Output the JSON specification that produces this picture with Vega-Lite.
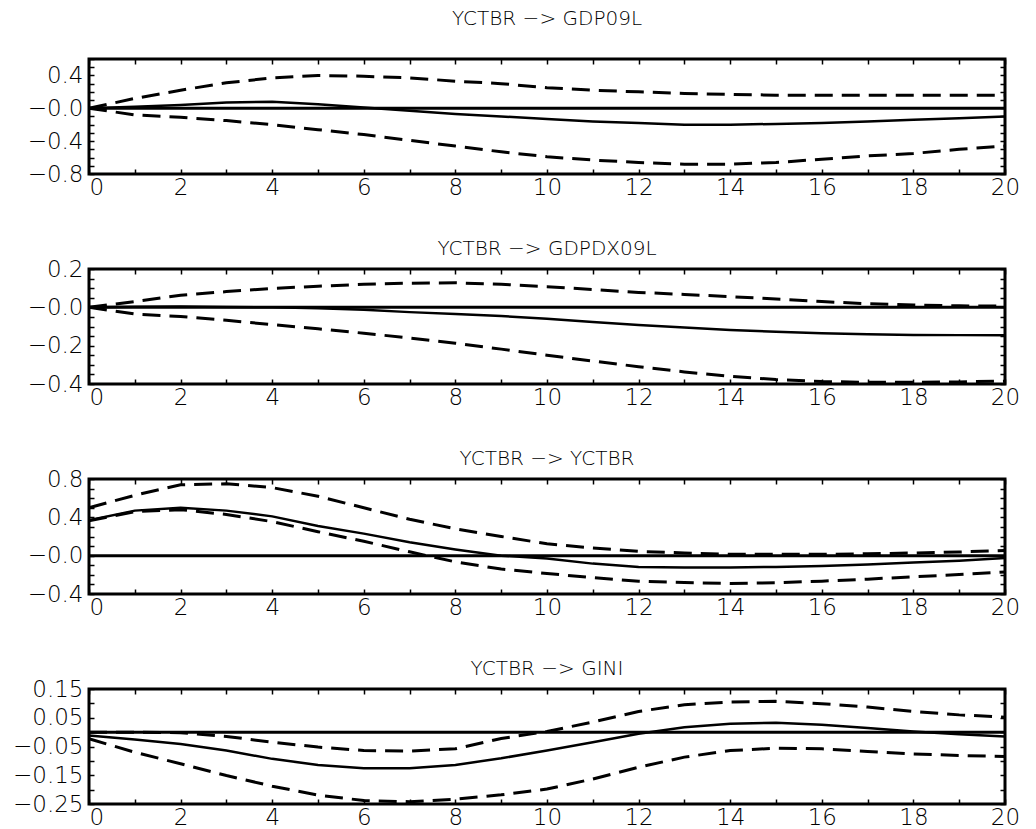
{
  "$schema": "https://vega.github.io/schema/vega-lite/v6.json",
  "background": "white",
  "padding": {"left": 11, "top": 7, "right": 5, "bottom": 5},
  "bounds": "flush",
  "spacing": 95,
  "config": {
    "view": {"stroke": "black", "strokeWidth": 3},
    "axis": {
      "labelFont": "DejaVu Sans", "labelFontSize": 23, "labelFontWeight": 200, "labelColor": "black",
      "tickColor": "black", "tickWidth": 1.5, "tickSize": -5, "domain": false, "grid": false,
      "labelOverlap": false, "labelFlush": false, "labelBound": false, "title": null
    },
    "axisX": {"labelPadding": 7},
    "axisY": {"labelPadding": 11},
    "title": {"font": "DejaVu Sans", "fontSize": 20, "fontWeight": 200, "color": "black", "anchor": "middle", "baseline": "alphabetic"}
  },
  "data": {"values": [
    {"panel": "GDP09L", "h": 0, "resp": 0, "lower": 0, "upper": 0},
    {"panel": "GDP09L", "h": 1, "resp": 0.02, "lower": -0.08, "upper": 0.12},
    {"panel": "GDP09L", "h": 2, "resp": 0.04, "lower": -0.11, "upper": 0.22},
    {"panel": "GDP09L", "h": 3, "resp": 0.07, "lower": -0.15, "upper": 0.31},
    {"panel": "GDP09L", "h": 4, "resp": 0.08, "lower": -0.2, "upper": 0.37},
    {"panel": "GDP09L", "h": 5, "resp": 0.05, "lower": -0.26, "upper": 0.4},
    {"panel": "GDP09L", "h": 6, "resp": 0.01, "lower": -0.32, "upper": 0.39},
    {"panel": "GDP09L", "h": 7, "resp": -0.03, "lower": -0.39, "upper": 0.37},
    {"panel": "GDP09L", "h": 8, "resp": -0.07, "lower": -0.46, "upper": 0.33},
    {"panel": "GDP09L", "h": 9, "resp": -0.1, "lower": -0.53, "upper": 0.3},
    {"panel": "GDP09L", "h": 10, "resp": -0.13, "lower": -0.59, "upper": 0.25},
    {"panel": "GDP09L", "h": 11, "resp": -0.16, "lower": -0.63, "upper": 0.22},
    {"panel": "GDP09L", "h": 12, "resp": -0.18, "lower": -0.66, "upper": 0.2},
    {"panel": "GDP09L", "h": 13, "resp": -0.2, "lower": -0.68, "upper": 0.18},
    {"panel": "GDP09L", "h": 14, "resp": -0.2, "lower": -0.68, "upper": 0.17},
    {"panel": "GDP09L", "h": 15, "resp": -0.19, "lower": -0.66, "upper": 0.16},
    {"panel": "GDP09L", "h": 16, "resp": -0.18, "lower": -0.62, "upper": 0.16},
    {"panel": "GDP09L", "h": 17, "resp": -0.16, "lower": -0.58, "upper": 0.16},
    {"panel": "GDP09L", "h": 18, "resp": -0.14, "lower": -0.55, "upper": 0.16},
    {"panel": "GDP09L", "h": 19, "resp": -0.12, "lower": -0.5, "upper": 0.16},
    {"panel": "GDP09L", "h": 20, "resp": -0.1, "lower": -0.46, "upper": 0.16},
    {"panel": "GDPDX09L", "h": 0, "resp": 0, "lower": 0, "upper": 0},
    {"panel": "GDPDX09L", "h": 1, "resp": 0.003, "lower": -0.035, "upper": 0.03},
    {"panel": "GDPDX09L", "h": 2, "resp": 0.004, "lower": -0.048, "upper": 0.063},
    {"panel": "GDPDX09L", "h": 3, "resp": 0.002, "lower": -0.068, "upper": 0.082},
    {"panel": "GDPDX09L", "h": 4, "resp": 0, "lower": -0.09, "upper": 0.099},
    {"panel": "GDPDX09L", "h": 5, "resp": -0.005, "lower": -0.112, "upper": 0.11},
    {"panel": "GDPDX09L", "h": 6, "resp": -0.013, "lower": -0.135, "upper": 0.12},
    {"panel": "GDPDX09L", "h": 7, "resp": -0.025, "lower": -0.16, "upper": 0.126},
    {"panel": "GDPDX09L", "h": 8, "resp": -0.035, "lower": -0.187, "upper": 0.128},
    {"panel": "GDPDX09L", "h": 9, "resp": -0.045, "lower": -0.218, "upper": 0.12},
    {"panel": "GDPDX09L", "h": 10, "resp": -0.06, "lower": -0.25, "upper": 0.108},
    {"panel": "GDPDX09L", "h": 11, "resp": -0.076, "lower": -0.28, "upper": 0.093},
    {"panel": "GDPDX09L", "h": 12, "resp": -0.092, "lower": -0.31, "upper": 0.078},
    {"panel": "GDPDX09L", "h": 13, "resp": -0.105, "lower": -0.337, "upper": 0.067},
    {"panel": "GDPDX09L", "h": 14, "resp": -0.118, "lower": -0.36, "upper": 0.056},
    {"panel": "GDPDX09L", "h": 15, "resp": -0.128, "lower": -0.377, "upper": 0.043},
    {"panel": "GDPDX09L", "h": 16, "resp": -0.135, "lower": -0.387, "upper": 0.03},
    {"panel": "GDPDX09L", "h": 17, "resp": -0.14, "lower": -0.391, "upper": 0.019},
    {"panel": "GDPDX09L", "h": 18, "resp": -0.144, "lower": -0.391, "upper": 0.012},
    {"panel": "GDPDX09L", "h": 19, "resp": -0.145, "lower": -0.389, "upper": 0.008},
    {"panel": "GDPDX09L", "h": 20, "resp": -0.145, "lower": -0.385, "upper": 0.006},
    {"panel": "YCTBR", "h": 0, "resp": 0.37, "lower": 0.365, "upper": 0.5},
    {"panel": "YCTBR", "h": 1, "resp": 0.47, "lower": 0.46, "upper": 0.63},
    {"panel": "YCTBR", "h": 2, "resp": 0.5, "lower": 0.48, "upper": 0.74},
    {"panel": "YCTBR", "h": 3, "resp": 0.47, "lower": 0.43, "upper": 0.75},
    {"panel": "YCTBR", "h": 4, "resp": 0.41, "lower": 0.355, "upper": 0.71},
    {"panel": "YCTBR", "h": 5, "resp": 0.31, "lower": 0.25, "upper": 0.62},
    {"panel": "YCTBR", "h": 6, "resp": 0.23, "lower": 0.15, "upper": 0.5},
    {"panel": "YCTBR", "h": 7, "resp": 0.14, "lower": 0.04, "upper": 0.38},
    {"panel": "YCTBR", "h": 8, "resp": 0.065, "lower": -0.065, "upper": 0.28},
    {"panel": "YCTBR", "h": 9, "resp": 0, "lower": -0.14, "upper": 0.2},
    {"panel": "YCTBR", "h": 10, "resp": -0.03, "lower": -0.186, "upper": 0.124},
    {"panel": "YCTBR", "h": 11, "resp": -0.083, "lower": -0.23, "upper": 0.08},
    {"panel": "YCTBR", "h": 12, "resp": -0.117, "lower": -0.266, "upper": 0.045},
    {"panel": "YCTBR", "h": 13, "resp": -0.124, "lower": -0.28, "upper": 0.028},
    {"panel": "YCTBR", "h": 14, "resp": -0.124, "lower": -0.29, "upper": 0.014},
    {"panel": "YCTBR", "h": 15, "resp": -0.117, "lower": -0.283, "upper": 0.014},
    {"panel": "YCTBR", "h": 16, "resp": -0.107, "lower": -0.266, "upper": 0.014},
    {"panel": "YCTBR", "h": 17, "resp": -0.093, "lower": -0.245, "upper": 0.02},
    {"panel": "YCTBR", "h": 18, "resp": -0.072, "lower": -0.22, "upper": 0.028},
    {"panel": "YCTBR", "h": 19, "resp": -0.052, "lower": -0.197, "upper": 0.038},
    {"panel": "YCTBR", "h": 20, "resp": -0.024, "lower": -0.17, "upper": 0.055},
    {"panel": "GINI", "h": 0, "resp": -0.012, "lower": -0.023, "upper": 0},
    {"panel": "GINI", "h": 1, "resp": -0.026, "lower": -0.07, "upper": 0},
    {"panel": "GINI", "h": 2, "resp": -0.041, "lower": -0.11, "upper": -0.002},
    {"panel": "GINI", "h": 3, "resp": -0.064, "lower": -0.151, "upper": -0.015},
    {"panel": "GINI", "h": 4, "resp": -0.093, "lower": -0.188, "upper": -0.035},
    {"panel": "GINI", "h": 5, "resp": -0.114, "lower": -0.219, "upper": -0.052},
    {"panel": "GINI", "h": 6, "resp": -0.126, "lower": -0.238, "upper": -0.064},
    {"panel": "GINI", "h": 7, "resp": -0.126, "lower": -0.242, "upper": -0.066},
    {"panel": "GINI", "h": 8, "resp": -0.114, "lower": -0.233, "upper": -0.058},
    {"panel": "GINI", "h": 9, "resp": -0.091, "lower": -0.218, "upper": -0.022},
    {"panel": "GINI", "h": 10, "resp": -0.064, "lower": -0.198, "upper": 0.002},
    {"panel": "GINI", "h": 11, "resp": -0.035, "lower": -0.163, "upper": 0.035},
    {"panel": "GINI", "h": 12, "resp": -0.006, "lower": -0.122, "upper": 0.072},
    {"panel": "GINI", "h": 13, "resp": 0.017, "lower": -0.087, "upper": 0.095},
    {"panel": "GINI", "h": 14, "resp": 0.029, "lower": -0.064, "upper": 0.105},
    {"panel": "GINI", "h": 15, "resp": 0.033, "lower": -0.056, "upper": 0.107},
    {"panel": "GINI", "h": 16, "resp": 0.026, "lower": -0.058, "upper": 0.099},
    {"panel": "GINI", "h": 17, "resp": 0.014, "lower": -0.067, "upper": 0.087},
    {"panel": "GINI", "h": 18, "resp": 0.002, "lower": -0.076, "upper": 0.072},
    {"panel": "GINI", "h": 19, "resp": -0.007, "lower": -0.081, "upper": 0.06},
    {"panel": "GINI", "h": 20, "resp": -0.015, "lower": -0.085, "upper": 0.052}
  ]},
  "vconcat": [
    {
      "title": {"text": "YCTBR  −>  GDP09L", "offset": 19},
      "width": 916, "height": 115,
      "transform": [{"filter": "datum.panel == 'GDP09L'"}],
      "resolve": {"axis": {"x": "independent", "y": "independent"}},
      "layer": [
        {"transform": [{"filter": "datum.h == 0"}],
         "mark": {"type": "rule", "color": "black", "strokeWidth": 3},
         "encoding": {"y": {"datum": 0, "type": "quantitative", "scale": {"domain": [-0.8, 0.6], "nice": false, "zero": false}, "axis": null}}},
        {"mark": {"type": "line", "color": "black", "strokeWidth": 3, "strokeDash": [18, 9]},
         "encoding": {
           "x": {"field": "h", "type": "quantitative", "scale": {"domain": [0, 20], "nice": false},
                 "axis": {"orient": "bottom", "values": [0,1,2,3,4,5,6,7,8,9,10,11,12,13,14,15,16,17,18,19,20], "labelExpr": "datum.value % 2 == 0 ? datum.label : ''", "labelAlign": {"condition": {"test": "datum.value == 0", "value": "left"}, "value": "center"}}},
           "y": {"field": "lower", "type": "quantitative", "scale": {"domain": [-0.8, 0.6], "nice": false, "zero": false},
                 "axis": {"orient": "left", "values": [-0.8,-0.7,-0.6,-0.5,-0.4,-0.3,-0.2,-0.1,0,0.1,0.2,0.3,0.4,0.5,0.6], "labelExpr": "datum.value == 0 ? '−0.0' : (datum.value == 0.4 || datum.value == -0.4 || datum.value == -0.8) ? format(datum.value, '.1f') : ''"}}
         }},
        {"mark": {"type": "line", "color": "black", "strokeWidth": 3, "strokeDash": [18, 9]},
         "encoding": {
           "x": {"field": "h", "type": "quantitative", "scale": {"domain": [0, 20], "nice": false},
                 "axis": {"orient": "top", "values": [0,1,2,3,4,5,6,7,8,9,10,11,12,13,14,15,16,17,18,19,20], "labels": false}},
           "y": {"field": "upper", "type": "quantitative", "scale": {"domain": [-0.8, 0.6], "nice": false, "zero": false},
                 "axis": {"orient": "right", "values": [-0.8,-0.7,-0.6,-0.5,-0.4,-0.3,-0.2,-0.1,0,0.1,0.2,0.3,0.4,0.5,0.6], "labels": false}}
         }},
        {"mark": {"type": "line", "color": "black", "strokeWidth": 2.5},
         "encoding": {
           "x": {"field": "h", "type": "quantitative", "scale": {"domain": [0, 20], "nice": false}, "axis": null},
           "y": {"field": "resp", "type": "quantitative", "scale": {"domain": [-0.8, 0.6], "nice": false, "zero": false}, "axis": null}
         }}
      ]
    },
    {
      "title": {"text": "YCTBR  −>  GDPDX09L", "offset": -1},
      "width": 916, "height": 115,
      "transform": [{"filter": "datum.panel == 'GDPDX09L'"}],
      "resolve": {"axis": {"x": "independent", "y": "independent"}},
      "layer": [
        {"transform": [{"filter": "datum.h == 0"}],
         "mark": {"type": "rule", "color": "black", "strokeWidth": 3},
         "encoding": {"y": {"datum": 0, "type": "quantitative", "scale": {"domain": [-0.4, 0.2], "nice": false, "zero": false}, "axis": null}}},
        {"mark": {"type": "line", "color": "black", "strokeWidth": 3, "strokeDash": [18, 9]},
         "encoding": {
           "x": {"field": "h", "type": "quantitative", "scale": {"domain": [0, 20], "nice": false},
                 "axis": {"orient": "bottom", "values": [0,1,2,3,4,5,6,7,8,9,10,11,12,13,14,15,16,17,18,19,20], "labelExpr": "datum.value % 2 == 0 ? datum.label : ''", "labelAlign": {"condition": {"test": "datum.value == 0", "value": "left"}, "value": "center"}}},
           "y": {"field": "lower", "type": "quantitative", "scale": {"domain": [-0.4, 0.2], "nice": false, "zero": false},
                 "axis": {"orient": "left", "values": [-0.4,-0.35,-0.3,-0.25,-0.2,-0.15,-0.1,-0.05,0,0.05,0.1,0.15,0.2], "labelExpr": "datum.value == 0 ? '−0.0' : (datum.value == 0.2 || datum.value == -0.2 || datum.value == -0.4) ? format(datum.value, '.1f') : ''"}}
         }},
        {"mark": {"type": "line", "color": "black", "strokeWidth": 3, "strokeDash": [18, 9]},
         "encoding": {
           "x": {"field": "h", "type": "quantitative", "scale": {"domain": [0, 20], "nice": false},
                 "axis": {"orient": "top", "values": [0,1,2,3,4,5,6,7,8,9,10,11,12,13,14,15,16,17,18,19,20], "labels": false}},
           "y": {"field": "upper", "type": "quantitative", "scale": {"domain": [-0.4, 0.2], "nice": false, "zero": false},
                 "axis": {"orient": "right", "values": [-0.4,-0.35,-0.3,-0.25,-0.2,-0.15,-0.1,-0.05,0,0.05,0.1,0.15,0.2], "labels": false}}
         }},
        {"mark": {"type": "line", "color": "black", "strokeWidth": 2.5},
         "encoding": {
           "x": {"field": "h", "type": "quantitative", "scale": {"domain": [0, 20], "nice": false}, "axis": null},
           "y": {"field": "resp", "type": "quantitative", "scale": {"domain": [-0.4, 0.2], "nice": false, "zero": false}, "axis": null}
         }}
      ]
    },
    {
      "title": {"text": "YCTBR  −>  YCTBR", "offset": -1},
      "width": 916, "height": 115,
      "transform": [{"filter": "datum.panel == 'YCTBR'"}],
      "resolve": {"axis": {"x": "independent", "y": "independent"}},
      "layer": [
        {"transform": [{"filter": "datum.h == 0"}],
         "mark": {"type": "rule", "color": "black", "strokeWidth": 3},
         "encoding": {"y": {"datum": 0, "type": "quantitative", "scale": {"domain": [-0.4, 0.8], "nice": false, "zero": false}, "axis": null}}},
        {"mark": {"type": "line", "color": "black", "strokeWidth": 3, "strokeDash": [18, 9]},
         "encoding": {
           "x": {"field": "h", "type": "quantitative", "scale": {"domain": [0, 20], "nice": false},
                 "axis": {"orient": "bottom", "values": [0,1,2,3,4,5,6,7,8,9,10,11,12,13,14,15,16,17,18,19,20], "labelExpr": "datum.value % 2 == 0 ? datum.label : ''", "labelAlign": {"condition": {"test": "datum.value == 0", "value": "left"}, "value": "center"}}},
           "y": {"field": "lower", "type": "quantitative", "scale": {"domain": [-0.4, 0.8], "nice": false, "zero": false},
                 "axis": {"orient": "left", "values": [-0.4,-0.3,-0.2,-0.1,0,0.1,0.2,0.3,0.4,0.5,0.6,0.7,0.8], "labelExpr": "datum.value == 0 ? '−0.0' : (datum.value == 0.8 || datum.value == 0.4 || datum.value == -0.4) ? format(datum.value, '.1f') : ''"}}
         }},
        {"mark": {"type": "line", "color": "black", "strokeWidth": 3, "strokeDash": [18, 9]},
         "encoding": {
           "x": {"field": "h", "type": "quantitative", "scale": {"domain": [0, 20], "nice": false},
                 "axis": {"orient": "top", "values": [0,1,2,3,4,5,6,7,8,9,10,11,12,13,14,15,16,17,18,19,20], "labels": false}},
           "y": {"field": "upper", "type": "quantitative", "scale": {"domain": [-0.4, 0.8], "nice": false, "zero": false},
                 "axis": {"orient": "right", "values": [-0.4,-0.3,-0.2,-0.1,0,0.1,0.2,0.3,0.4,0.5,0.6,0.7,0.8], "labels": false}}
         }},
        {"mark": {"type": "line", "color": "black", "strokeWidth": 2.5},
         "encoding": {
           "x": {"field": "h", "type": "quantitative", "scale": {"domain": [0, 20], "nice": false}, "axis": null},
           "y": {"field": "resp", "type": "quantitative", "scale": {"domain": [-0.4, 0.8], "nice": false, "zero": false}, "axis": null}
         }}
      ]
    },
    {
      "title": {"text": "YCTBR  −>  GINI", "offset": -1},
      "width": 916, "height": 115,
      "transform": [{"filter": "datum.panel == 'GINI'"}],
      "resolve": {"axis": {"x": "independent", "y": "independent"}},
      "layer": [
        {"transform": [{"filter": "datum.h == 0"}],
         "mark": {"type": "rule", "color": "black", "strokeWidth": 3},
         "encoding": {"y": {"datum": 0, "type": "quantitative", "scale": {"domain": [-0.25, 0.15], "nice": false, "zero": false}, "axis": null}}},
        {"mark": {"type": "line", "color": "black", "strokeWidth": 3, "strokeDash": [18, 9]},
         "encoding": {
           "x": {"field": "h", "type": "quantitative", "scale": {"domain": [0, 20], "nice": false},
                 "axis": {"orient": "bottom", "values": [0,1,2,3,4,5,6,7,8,9,10,11,12,13,14,15,16,17,18,19,20], "labelExpr": "datum.value % 2 == 0 ? datum.label : ''", "labelAlign": {"condition": {"test": "datum.value == 0", "value": "left"}, "value": "center"}}},
           "y": {"field": "lower", "type": "quantitative", "scale": {"domain": [-0.25, 0.15], "nice": false, "zero": false},
                 "axis": {"orient": "left", "values": [-0.25,-0.2,-0.15,-0.1,-0.05,0,0.05,0.1,0.15], "labelExpr": "(datum.value == 0.15 || datum.value == 0.05 || datum.value == -0.05 || datum.value == -0.15 || datum.value == -0.25) ? format(datum.value, '.2f') : ''"}}
         }},
        {"mark": {"type": "line", "color": "black", "strokeWidth": 3, "strokeDash": [18, 9]},
         "encoding": {
           "x": {"field": "h", "type": "quantitative", "scale": {"domain": [0, 20], "nice": false},
                 "axis": {"orient": "top", "values": [0,1,2,3,4,5,6,7,8,9,10,11,12,13,14,15,16,17,18,19,20], "labels": false}},
           "y": {"field": "upper", "type": "quantitative", "scale": {"domain": [-0.25, 0.15], "nice": false, "zero": false},
                 "axis": {"orient": "right", "values": [-0.25,-0.2,-0.15,-0.1,-0.05,0,0.05,0.1,0.15], "labels": false}}
         }},
        {"mark": {"type": "line", "color": "black", "strokeWidth": 2.5},
         "encoding": {
           "x": {"field": "h", "type": "quantitative", "scale": {"domain": [0, 20], "nice": false}, "axis": null},
           "y": {"field": "resp", "type": "quantitative", "scale": {"domain": [-0.25, 0.15], "nice": false, "zero": false}, "axis": null}
         }}
      ]
    }
  ]
}
